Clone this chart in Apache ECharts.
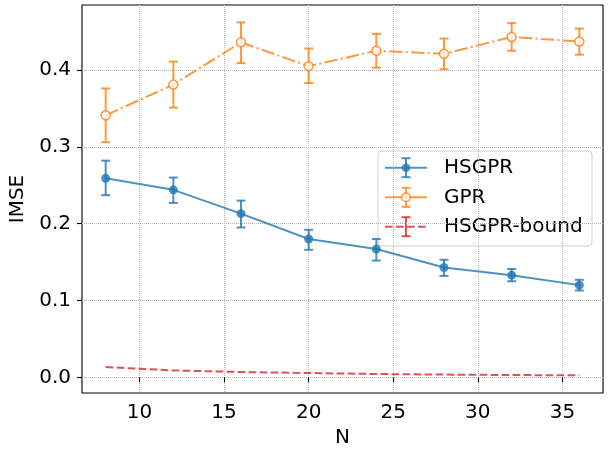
<!DOCTYPE html>
<html>
<head>
<meta charset="utf-8">
<script src="https://cdn.jsdelivr.net/npm/echarts@6/dist/echarts.min.js"></script>
<style>html,body{margin:0;padding:0;background:#fff;}#c{width:616px;height:452px;}</style>
</head>
<body>
<div id="c"></div>
<script>
// ---- data ----
var N = [8, 12, 16, 20, 24, 28, 32, 36];
var hsgprMean = [0.259, 0.244, 0.213, 0.180, 0.167, 0.143, 0.133, 0.120];
var hsgprLow  = [0.237, 0.227, 0.195, 0.166, 0.152, 0.132, 0.125, 0.113];
var hsgprHigh = [0.282, 0.260, 0.230, 0.192, 0.180, 0.153, 0.141, 0.127];
var gprMean = [0.341, 0.381, 0.436, 0.405, 0.425, 0.421, 0.443, 0.437];
var gprLow  = [0.306, 0.351, 0.409, 0.383, 0.403, 0.401, 0.425, 0.420];
var gprHigh = [0.376, 0.411, 0.462, 0.428, 0.447, 0.441, 0.461, 0.454];
var boundMean = [0.0134, 0.0090, 0.0069, 0.0056, 0.0043, 0.0036, 0.0030, 0.0026];
var xTicks = [10, 15, 20, 25, 30, 35];
var yTicks = [0.0, 0.1, 0.2, 0.3, 0.4];
var seriesNames = ['HSGPR', 'GPR', 'HSGPR-bound'];

// ---- styles ----
var FONT = 'DejaVu Sans';
var FS = 20;
var C_BLUE = '#1f77b4', C_ORANGE = '#ff7f0e', C_RED = '#d62728';
var ALPHA = 0.8;

function pairs(xs, ys) { return xs.map(function (x, i) { return [x, ys[i]]; }); }
function triples(xs, lo, hi) { return xs.map(function (x, i) { return [x, lo[i], hi[i]]; }); }

function errRender(color) {
  return function (params, api) {
    var x = api.value(0), lo = api.value(1), hi = api.value(2);
    var pLo = api.coord([x, lo]), pHi = api.coord([x, hi]);
    var cap = 4.5;
    var st = { stroke: color, lineWidth: 2, opacity: ALPHA };
    return {
      type: 'group',
      children: [
        { type: 'line', shape: { x1: pLo[0], y1: pLo[1], x2: pHi[0], y2: pHi[1] }, style: st },
        { type: 'line', shape: { x1: pLo[0] - cap, y1: pLo[1], x2: pLo[0] + cap, y2: pLo[1] }, style: st },
        { type: 'line', shape: { x1: pHi[0] - cap, y1: pHi[1], x2: pHi[0] + cap, y2: pHi[1] }, style: st }
      ]
    };
  };
}

var chart = echarts.init(document.getElementById('c'), null, { renderer: 'canvas' });

// legend drawn as graphic (handles with error-bar glyphs)
var LX = 378, LY = 151, LW = 214, LH = 95;
var rows = [167.7, 197.3, 226.7];
var hx1 = 385, hx2 = 427, hxc = 406, tx = 444;
function legendItem(i, color, dash, marker) {
  var y = rows[i];
  var st = { stroke: color, lineWidth: 2, opacity: ALPHA };
  var items = [
    { type: 'line', shape: { x1: hx1, y1: y, x2: hx2, y2: y }, style: { stroke: color, lineWidth: 2, opacity: ALPHA, lineDash: dash } },
    { type: 'line', shape: { x1: hxc, y1: y - 9.5, x2: hxc, y2: y + 9.5 }, style: st },
    { type: 'line', shape: { x1: hxc - 4.5, y1: y - 9.5, x2: hxc + 4.5, y2: y - 9.5 }, style: st },
    { type: 'line', shape: { x1: hxc - 4.5, y1: y + 9.5, x2: hxc + 4.5, y2: y + 9.5 }, style: st },
    { type: 'text', x: tx, y: y, style: { text: seriesNames[i], font: FS + 'px "' + FONT + '"', fill: '#000', verticalAlign: 'middle', align: 'left' } }
  ];
  if (marker === 'filled') {
    items.push({ type: 'circle', shape: { cx: hxc, cy: y, r: 4.3 }, style: { fill: color, opacity: ALPHA } });
  } else if (marker === 'hollow') {
    items.push({ type: 'circle', shape: { cx: hxc, cy: y, r: 4.3 }, style: { fill: '#fff', stroke: color, lineWidth: 1.5, opacity: ALPHA } });
  }
  return items;
}
var legendChildren = [
  { type: 'rect', shape: { x: LX, y: LY, width: LW, height: LH, r: 4 }, style: { fill: 'rgba(255,255,255,0.8)', stroke: '#d0d0d0', lineWidth: 1 } }
].concat(legendItem(0, C_BLUE, null, 'filled'))
 .concat(legendItem(1, C_ORANGE, null, 'hollow'))
 .concat(legendItem(2, C_RED, [7.7, 3.3], null));

var option = {
  animation: false,
  backgroundColor: '#fff',
  textStyle: { fontFamily: FONT },
  grid: { left: 82, right: 13, top: 5, bottom: 59, containLabel: false, outerBoundsMode: 'none', show: true, borderColor: '#000', borderWidth: 1.1, backgroundColor: 'transparent' },
  xAxis: {
    type: 'value', min: 6.6, max: 37.4,
    name: 'N', nameLocation: 'middle', nameGap: 34,
    nameTextStyle: { fontSize: FS, color: '#000', fontFamily: FONT },
    axisLine: { show: false },
    axisTick: { show: true, length: 5, lineStyle: { color: '#000', width: 1.1 }, customValues: xTicks },
    axisLabel: { fontSize: FS, color: '#000', fontFamily: FONT, margin: 10, customValues: xTicks, formatter: function (v) { return String(v); } },
    splitLine: { show: true, lineStyle: { color: '#b8b8b8', type: 'dotted', width: 1 } }
  },
  yAxis: {
    type: 'value', min: -0.0204, max: 0.4846,
    name: 'IMSE', nameLocation: 'middle', nameGap: 45,
    nameTextStyle: { fontSize: FS, color: '#000', fontFamily: FONT },
    axisLine: { show: false },
    axisTick: { show: true, length: 5, lineStyle: { color: '#000', width: 1.1 }, customValues: yTicks },
    axisLabel: { fontSize: FS, color: '#000', fontFamily: FONT, margin: 11, customValues: yTicks, formatter: function (v) { return v.toFixed(1); } },
    splitLine: { show: true, lineStyle: { color: '#b8b8b8', type: 'dotted', width: 1 } }
  },
  graphic: [{ type: 'group', z: 100, children: legendChildren }],
  series: [
    { name: 'HSGPR-err', type: 'custom', renderItem: errRender(C_BLUE), data: triples(N, hsgprLow, hsgprHigh), z: 2, encode: { x: 0, y: [1, 2] } },
    { name: 'GPR-err', type: 'custom', renderItem: errRender(C_ORANGE), data: triples(N, gprLow, gprHigh), z: 2, encode: { x: 0, y: [1, 2] } },
    {
      name: seriesNames[0], type: 'line', data: pairs(N, hsgprMean), z: 3,
      symbol: 'circle', symbolSize: 9, showSymbol: true,
      lineStyle: { color: C_BLUE, width: 2, opacity: ALPHA },
      itemStyle: { color: C_BLUE, opacity: ALPHA }
    },
    {
      name: seriesNames[1], type: 'line', data: pairs(N, gprMean), z: 3,
      symbol: 'circle', symbolSize: 9, showSymbol: true,
      lineStyle: { color: C_ORANGE, width: 2, opacity: ALPHA, type: [13.3, 3.3, 2.1, 3.3] },
      itemStyle: { color: '#fff', borderColor: C_ORANGE, borderWidth: 1.5, opacity: ALPHA }
    },
    {
      name: seriesNames[2], type: 'line', data: pairs(N, boundMean), z: 3,
      symbol: 'none', showSymbol: false,
      lineStyle: { color: C_RED, width: 2, opacity: ALPHA, type: [7.7, 3.3] }
    }
  ]
};
chart.setOption(option);
</script>
</body>
</html>
